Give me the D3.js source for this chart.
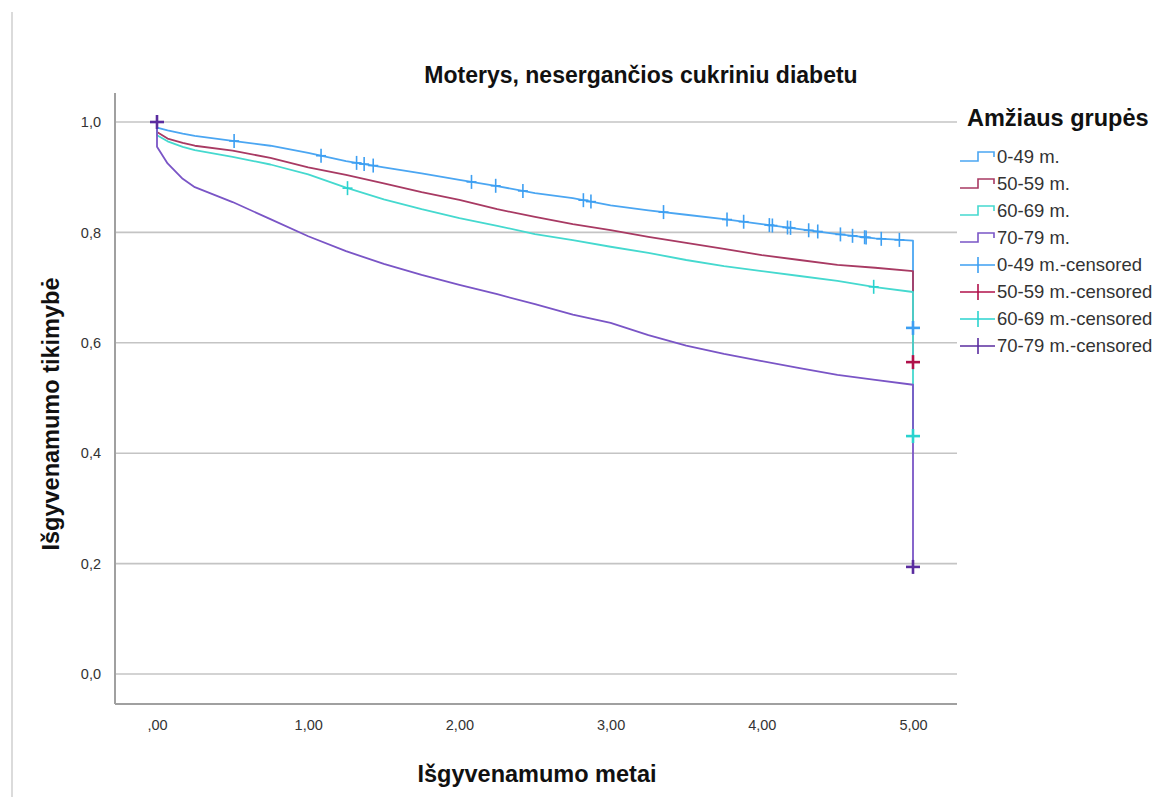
<!DOCTYPE html>
<html>
<head>
<meta charset="utf-8">
<script src="https://cdn.jsdelivr.net/npm/d3@7"></script>
<style>
  body { margin: 0; background: #fff; }
  svg { font-family: "Liberation Sans", Arial, sans-serif; }
</style>
</head>
<body>
<svg id="chart"></svg>
<script>
const groups = ['0-49 m.', '50-59 m.', '60-69 m.', '70-79 m.'];
const times = [0, 0.07, 0.17, 0.25, 0.5, 0.75, 1.0, 1.25, 1.5, 1.75, 2.0, 2.25, 2.5, 2.75, 3.0, 3.25, 3.5, 3.75, 4.0, 4.25, 4.5, 4.75, 5.0];
const surv0049 = [0.990, 0.985, 0.979, 0.975, 0.966, 0.957, 0.944, 0.929, 0.918, 0.907, 0.895, 0.884, 0.871, 0.862, 0.849, 0.840, 0.832, 0.824, 0.815, 0.806, 0.797, 0.789, 0.785];
const surv5059 = [0.982, 0.970, 0.962, 0.957, 0.948, 0.935, 0.918, 0.904, 0.889, 0.873, 0.859, 0.842, 0.828, 0.815, 0.804, 0.792, 0.781, 0.770, 0.759, 0.750, 0.741, 0.736, 0.730];
const surv6069 = [0.976, 0.965, 0.955, 0.949, 0.937, 0.923, 0.905, 0.881, 0.860, 0.842, 0.826, 0.812, 0.797, 0.786, 0.774, 0.763, 0.750, 0.739, 0.730, 0.721, 0.712, 0.701, 0.692];
const surv7079 = [0.955, 0.925, 0.897, 0.882, 0.855, 0.824, 0.793, 0.766, 0.743, 0.723, 0.705, 0.688, 0.670, 0.651, 0.636, 0.614, 0.595, 0.580, 0.567, 0.554, 0.542, 0.533, 0.524];
// value reached by the final drop at 5 years, where the last censored mark sits
const endValues = [0.627, 0.565, 0.431, 0.194];
// censoring times along each curve
const censored0049 = [0.51, 1.085, 1.32, 1.37, 1.43, 2.08, 2.24, 2.42, 2.82, 2.87, 3.35, 3.77, 3.88, 4.05, 4.07, 4.17, 4.19, 4.31, 4.37, 4.52, 4.60, 4.68, 4.69, 4.79, 4.91];
const censored5059 = [];
const censored6069 = [1.26, 4.74];
const censored7079 = [0];
const yTicks = [0, 0.2, 0.4, 0.6, 0.8, 1.0];
const xTicks = [0, 1, 2, 3, 4, 5];

const lineColors = ['#4ba6f2', '#a83a63', '#45d9cf', '#7a55c6'];
const censorColors = ['#3d9ff2', '#b0104a', '#2ad3cf', '#5a2c9f'];

const width = 1164, height = 797;
const svg = d3.select('#chart').attr('width', width).attr('height', height);

const x = d3.scaleLinear().domain([0, 5]).range([157, 913]);
const y = d3.scaleLinear().domain([0, 1]).range([674, 122]);
const plot = { left: 115, right: 957, top: 93, bottom: 704 };

// page border on the left
svg.append('line')
  .attr('x1', 12).attr('x2', 12).attr('y1', 12).attr('y2', height)
  .attr('stroke', '#cfcfcf').attr('stroke-width', 1.5);

// grid lines
svg.append('g')
  .selectAll('line')
  .data(yTicks)
  .enter()
  .append('line')
  .attr('x1', plot.left).attr('x2', plot.right)
  .attr('y1', d => y(d)).attr('y2', d => y(d))
  .attr('stroke', '#c4c4c4').attr('stroke-width', 1.6);

// axes
const yAxis = svg.append('g')
  .attr('transform', `translate(${plot.left},0)`)
  .call(d3.axisLeft(y).tickValues(yTicks).tickSize(0).tickPadding(14)
    .tickFormat(d => d3.format('.1f')(d).replace('.', ',')));
yAxis.select('.domain').remove();

const xAxis = svg.append('g')
  .attr('transform', `translate(0,${plot.bottom})`)
  .call(d3.axisBottom(x).tickValues(xTicks).tickSize(0).tickPadding(16)
    .tickFormat(d => d === 0 ? ',00' : d3.format('.2f')(d).replace('.', ',')));
xAxis.select('.domain').remove();

svg.selectAll('.tick text')
  .attr('fill', '#333')
  .style('font-size', '14.5px');

svg.append('line')
  .attr('x1', plot.left).attr('x2', plot.left)
  .attr('y1', plot.top).attr('y2', plot.bottom)
  .attr('stroke', '#a0a0a0').attr('stroke-width', 2);
svg.append('line')
  .attr('x1', plot.left).attr('x2', plot.right)
  .attr('y1', plot.bottom).attr('y2', plot.bottom)
  .attr('stroke', '#a0a0a0').attr('stroke-width', 2);

// curves
const seriesValues = [surv0049, surv5059, surv6069, surv7079];
const censoredTimes = [censored0049, censored5059, censored6069, censored7079];

const series = groups.map((g, i) => {
  const pts = [[0, 1]].concat(times.map((t, j) => [t, seriesValues[i][j]]));
  return { group: g, i, pts, curve: pts.concat([[5, endValues[i]]]) };
});

const valueAt = (pts, t) => {
  if (t <= 0) return 1;
  const k = d3.bisector(d => d[0]).left(pts, t, 2);
  const a = pts[k - 1], b = pts[k];
  return a[1] + (b[1] - a[1]) * (t - a[0]) / (b[0] - a[0]);
};

const line = d3.line().x(d => x(d[0])).y(d => y(d[1]));

svg.append('g')
  .selectAll('path')
  .data(series)
  .enter()
  .append('path')
  .attr('d', d => line(d.curve))
  .attr('fill', 'none')
  .attr('stroke', d => lineColors[d.i])
  .attr('stroke-width', 1.8)
  .attr('stroke-linejoin', 'round');

// censored marks
const marks = [];
series.forEach(s => {
  censoredTimes[s.i].forEach(t => marks.push({ i: s.i, t, v: valueAt(s.pts, t), big: t === 0 }));
  marks.push({ i: s.i, t: 5, v: endValues[s.i], big: true });
});

const markG = svg.append('g')
  .selectAll('g')
  .data(marks)
  .enter()
  .append('g')
  .attr('transform', d => `translate(${x(d.t)},${y(d.v)})`)
  .attr('stroke', d => censorColors[d.i])
  .attr('stroke-width', d => d.big ? 2.6 : 1.6);
markG.append('line').attr('x1', d => d.big ? -7 : -5).attr('x2', d => d.big ? 7 : 5);
markG.append('line').attr('y1', -7).attr('y2', 7);

// titles
svg.append('text')
  .attr('x', 641).attr('y', 83)
  .attr('text-anchor', 'middle')
  .style('font-size', '23px').style('font-weight', 'bold')
  .attr('fill', '#111')
  .text('Moterys, nesergančios cukriniu diabetu');

svg.append('text')
  .attr('transform', 'translate(59,414) rotate(-90)')
  .attr('text-anchor', 'middle')
  .style('font-size', '23.5px').style('font-weight', 'bold')
  .attr('fill', '#111')
  .text('Išgyvenamumo tikimybė');

svg.append('text')
  .attr('x', 537).attr('y', 782)
  .attr('text-anchor', 'middle')
  .style('font-size', '23.5px').style('font-weight', 'bold')
  .attr('fill', '#111')
  .text('Išgyvenamumo metai');

// legend
const legend = svg.append('g');
legend.append('text')
  .attr('x', 967).attr('y', 126)
  .style('font-size', '23.5px').style('font-weight', 'bold')
  .attr('fill', '#111')
  .text('Amžiaus grupės');

const legendItems = groups.map((g, i) => ({ label: g, i, kind: 'line' }))
  .concat(groups.map((g, i) => ({ label: g + '-censored', i, kind: 'mark' })));

const item = legend.selectAll('.item')
  .data(legendItems)
  .enter()
  .append('g')
  .attr('class', 'item')
  .attr('transform', (d, k) => `translate(0,${157 + k * 27})`);

item.filter(d => d.kind === 'line')
  .append('path')
  .attr('d', 'M960,4H978V-5H994V0')
  .attr('fill', 'none')
  .attr('stroke', d => lineColors[d.i])
  .attr('stroke-width', 1.6);

const lm = item.filter(d => d.kind === 'mark');
lm.append('line').attr('x1', 960).attr('x2', 995).attr('y1', 0).attr('y2', 0)
  .attr('stroke', d => censorColors[d.i]).attr('stroke-width', 1.6);
lm.append('line').attr('x1', 978).attr('x2', 978).attr('y1', -8).attr('y2', 8)
  .attr('stroke', d => censorColors[d.i]).attr('stroke-width', 1.6);

item.append('text')
  .attr('x', 997).attr('y', 0).attr('dy', '0.35em')
  .style('font-size', '18.5px')
  .attr('fill', '#333')
  .text(d => d.label);
</script>
</body>
</html>
